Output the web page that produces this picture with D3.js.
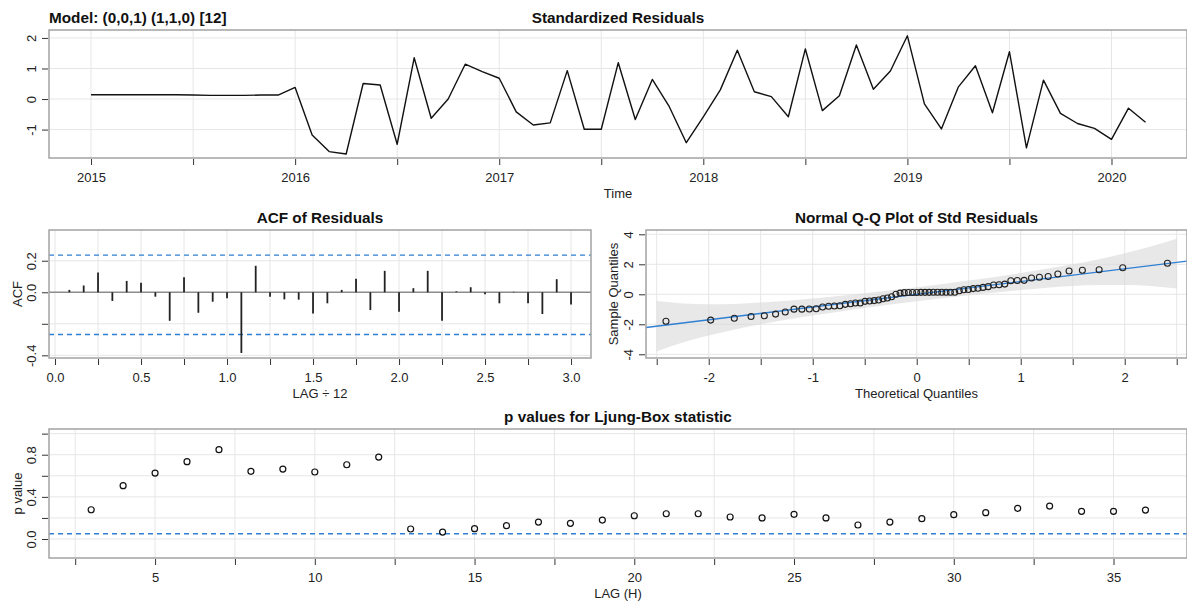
<!DOCTYPE html>
<html>
<head>
<meta charset="utf-8">
<script src="https://cdn.jsdelivr.net/npm/d3@7"></script>
<style>
body { margin: 0; background: #fff; }
svg { display: block; font-family: "Liberation Sans", Arial, sans-serif; }
.title { font-weight: bold; font-size: 15.3px; fill: #111; }
.axis text { font-size: 13px; fill: #222; font-family: "Liberation Sans", Arial, sans-serif; }
.axis line { stroke: #333; }
.lab { font-size: 13px; fill: #222; }
</style>
</head>
<body>
<div id="vis"></div>
<script>
// standardized residuals, monthly from Jan 2015
var startYear = 2015, freq = 12;
var resid = [
	0.14, 0.14, 0.14, 0.14, 0.14, 0.14, 0.13, 0.12, 0.12, 0.12, 0.13, 0.13,
	0.38, -1.18, -1.72, -1.8, 0.51, 0.46, -1.48, 1.35, -0.63, 0.0, 1.14, 0.9,
	0.68, -0.42, -0.85, -0.78, 0.93, -0.99, -0.99, 1.19, -0.67, 0.64, -0.25, -1.43,
	-0.58, 0.3, 1.6, 0.24, 0.08, -0.58, 1.64, -0.38, 0.11, 1.77, 0.32, 0.92,
	2.07, -0.16, -0.98, 0.4, 1.09, -0.45, 1.55, -1.6, 0.62, -0.47, -0.8, -0.96,
	-1.32, -0.3, -0.76
];

// ACF of residuals, lags 1..36 (in units of LAG / 12)
var acfVals = [
	0.015, 0.043, 0.125, -0.055, 0.072, 0.06, -0.028, -0.181, 0.096, -0.13, -0.06, -0.038,
	-0.385, 0.168, -0.028, -0.045, -0.047, -0.134, -0.07, 0.015, 0.085, -0.113, 0.136, -0.123,
	0.026, 0.136, -0.181, 0.006, 0.032, -0.013, -0.07, 0.003, -0.07, -0.138, 0.083, -0.077
];
var acfUpper = 0.236, acfLower = -0.268;

// Q-Q plot
var qqTheo = [
	-2.411, -1.981, -1.754, -1.593, -1.465, -1.357, -1.264, -1.180, -1.104, -1.033, -0.967,
	-0.905, -0.847, -0.792, -0.739, -0.687, -0.637, -0.589, -0.543, -0.497, -0.453, -0.409,
	-0.366, -0.324, -0.282, -0.241, -0.200, -0.160, -0.120, -0.080, -0.040, 0,
	0.040, 0.080, 0.120, 0.160, 0.200, 0.241, 0.282, 0.324, 0.366, 0.409, 0.453,
	0.497, 0.543, 0.589, 0.637, 0.687, 0.739, 0.792, 0.847, 0.905, 0.967, 1.033,
	1.104, 1.180, 1.264, 1.357, 1.465, 1.593, 1.754, 1.981, 2.411
];
var qqLineSlope = 0.85, qqLineIntercept = 0.0;
var bandZ  = [-2.5, -2.25, -2, -1.75, -1.5, -1, -0.5, 0, 0.5, 1, 1.5, 1.75, 2, 2.25, 2.5];
var bandLo = [-3.81, -3.21, -2.74, -2.34, -2.0, -1.42, -0.92, -0.47, -0.07, 0.28, 0.55, 0.62, 0.62, 0.55, 0.38];
var bandHi = [-0.45, -0.61, -0.66, -0.64, -0.55, -0.28, 0.07, 0.47, 0.92, 1.42, 2.0, 2.34, 2.74, 3.18, 3.7];

// Ljung-Box p values
var lbLags = d3.range(3, 37);
var lbP = [
	0.278, 0.506, 0.626, 0.734, 0.848, 0.642, 0.664, 0.636, 0.705, 0.778,
	0.095, 0.066, 0.098, 0.127, 0.161, 0.149, 0.18, 0.221, 0.24, 0.24,
	0.209, 0.2, 0.234, 0.2, 0.133, 0.161, 0.193, 0.231, 0.25, 0.291,
	0.313, 0.263, 0.263, 0.275
];
var lbAlpha = 0.05;

var width = 1187, height = 601;
var gridCol = '#e6e6e6', boxCol = '#a3a3a3', blue = '#2f7fd3';

var svg = d3.select('#vis')
	.append('svg')
	.attr('width', width)
	.attr('height', height);

// draws grid, box, axes and labels of one panel
function panel(p) {
	var x = p.x, y = p.y;
	var x0 = x.range()[0], x1 = x.range()[1], y0 = y.range()[0], y1 = y.range()[1];
	var g = svg.append('g');

	g.selectAll('.vg').data(p.xGrid).enter().append('line')
		.attr('x1', function(d) { return x(d); }).attr('x2', function(d) { return x(d); })
		.attr('y1', y1).attr('y2', y0)
		.attr('stroke', gridCol).attr('stroke-width', 1);
	g.selectAll('.hg').data(p.yGrid).enter().append('line')
		.attr('y1', function(d) { return y(d); }).attr('y2', function(d) { return y(d); })
		.attr('x1', x0).attr('x2', x1)
		.attr('stroke', gridCol).attr('stroke-width', 1);

	var content = svg.append('g');

	svg.append('rect')
		.attr('x', x0).attr('y', y1)
		.attr('width', x1 - x0).attr('height', y0 - y1)
		.attr('fill', 'none')
		.attr('stroke', boxCol)
		.attr('stroke-width', 1.5);

	var xa = svg.append('g')
		.attr('class', 'axis')
		.attr('transform', 'translate(0,' + (y0 + 1) + ')')
		.call(d3.axisBottom(x).tickValues(p.xTicks).tickSize(6).tickSizeOuter(0).tickPadding(8)
			.tickFormat(function(d) { return p.xLabel(d); }));
	xa.select('.domain').remove();

	var ya = svg.append('g')
		.attr('class', 'axis')
		.attr('transform', 'translate(' + (x0 - 1) + ',0)')
		.call(d3.axisLeft(y).tickValues(p.yTicks).tickSize(6).tickSizeOuter(0)
			.tickFormat(function(d) { return p.yLabel(d); }));
	ya.select('.domain').remove();
	ya.selectAll('text')
		.attr('x', null).attr('dy', null)
		.attr('text-anchor', 'middle')
		.attr('transform', 'translate(-12.5,0) rotate(-90)');

	svg.append('text')
		.attr('class', 'title')
		.attr('x', (x0 + x1) / 2).attr('y', y1 - 7.5)
		.attr('text-anchor', 'middle')
		.text(p.title);

	svg.append('text')
		.attr('class', 'lab')
		.attr('x', (x0 + x1) / 2).attr('y', y0 + 39.5)
		.attr('text-anchor', 'middle')
		.text(p.xTitle);

	if (p.yTitle) {
		svg.append('text')
			.attr('class', 'lab')
			.attr('transform', 'translate(' + p.yTitleX + ',' + ((y0 + y1) / 2) + ') rotate(-90)')
			.attr('text-anchor', 'middle')
			.text(p.yTitle);
	}
	return content;
}

// ---- standardized residuals ----
var xT = d3.scaleLinear().domain([2014.794, 2020.37]).range([49, 1187]);
var yT = d3.scaleLinear().domain([-1.93, 2.26]).range([158, 30]);
var gT = panel({
	x: xT, y: yT,
	xGrid: d3.range(2015, 2020.01, 0.5), yGrid: [-1, 0, 1, 2],
	xTicks: d3.range(2015, 2020.01, 0.5), xLabel: function(d) { return d % 1 === 0 ? d : ''; },
	yTicks: [-1, 0, 1, 2], yLabel: function(d) { return d; },
	title: 'Standardized Residuals', xTitle: 'Time'
});
gT.append('path')
	.datum(resid)
	.attr('fill', 'none')
	.attr('stroke', '#111')
	.attr('stroke-width', 1.4)
	.attr('stroke-linejoin', 'round')
	.attr('d', d3.line()
		.x(function(d, i) { return xT(startYear + i / freq); })
		.y(function(d) { return yT(d); }));

svg.append('text')
	.attr('class', 'title')
	.attr('x', 49).attr('y', 22.5)
	.text('Model: (0,0,1) (1,1,0) [12]');

// ---- ACF ----
var xA = d3.scaleLinear().domain([-0.035, 3.116]).range([49, 591]);
var yA = d3.scaleLinear().domain([-0.417, 0.395]).range([358, 230]);
var gA = panel({
	x: xA, y: yA,
	xGrid: d3.range(0, 3.01, 0.25), yGrid: [-0.4, -0.2, 0.2],
	xTicks: d3.range(0, 3.01, 0.25), xLabel: function(d) { return (d * 2) % 1 === 0 ? d.toFixed(1) : ''; },
	yTicks: [-0.4, -0.2, 0, 0.2], yLabel: function(d) { return d === -0.2 ? '' : d.toFixed(1); },
	title: 'ACF of Residuals', xTitle: 'LAG \u00f7 12',
	yTitle: 'ACF', yTitleX: 22
});
gA.append('line')
	.attr('x1', 49).attr('x2', 591)
	.attr('y1', yA(0)).attr('y2', yA(0))
	.attr('stroke', '#8c8c8c').attr('stroke-width', 1.3);
[acfUpper, acfLower].forEach(function(b) {
	gA.append('line')
		.attr('x1', 49).attr('x2', 591)
		.attr('y1', yA(b)).attr('y2', yA(b))
		.attr('stroke', blue).attr('stroke-width', 1.3)
		.attr('stroke-dasharray', '5,4');
});
gA.selectAll('.bar').data(acfVals).enter().append('line')
	.attr('x1', function(d, i) { return xA((i + 1) / freq); })
	.attr('x2', function(d, i) { return xA((i + 1) / freq); })
	.attr('y1', yA(0))
	.attr('y2', function(d) { return yA(d); })
	.attr('stroke', '#222')
	.attr('stroke-width', 1.8);

// ---- Normal Q-Q ----
var xQ = d3.scaleLinear().domain([-2.603, 2.599]).range([646, 1187]);
var yQ = d3.scaleLinear().domain([-4.247, 4.287]).range([358, 230]);
var gQ = panel({
	x: xQ, y: yQ,
	xGrid: d3.range(-2.5, 2.51, 0.5), yGrid: [-4, -2, 0, 2, 4],
	xTicks: d3.range(-2.5, 2.51, 0.5), xLabel: function(d) { return d % 1 === 0 ? d : ''; },
	yTicks: [-4, -2, 0, 2, 4], yLabel: function(d) { return d; },
	title: 'Normal Q-Q Plot of Std Residuals', xTitle: 'Theoretical Quantiles',
	yTitle: 'Sample Quantiles', yTitleX: 618
});
var qqSample = resid.slice().sort(d3.ascending);
gQ.append('path')
	.datum(bandZ)
	.attr('fill', '#d9d9d9')
	.attr('fill-opacity', 0.6)
	.attr('d', d3.area()
		.curve(d3.curveMonotoneX)
		.x(function(d) { return xQ(d); })
		.y0(function(d, i) { return yQ(bandLo[i]); })
		.y1(function(d, i) { return yQ(bandHi[i]); }));
gQ.append('line')
	.attr('x1', 646).attr('x2', 1187)
	.attr('y1', yQ(qqLineIntercept + qqLineSlope * xQ.invert(646)))
	.attr('y2', yQ(qqLineIntercept + qqLineSlope * xQ.invert(1187)))
	.attr('stroke', blue).attr('stroke-width', 1.3);
gQ.selectAll('.pt').data(qqTheo).enter().append('circle')
	.attr('cx', function(d) { return xQ(d); })
	.attr('cy', function(d, i) { return yQ(qqSample[i]); })
	.attr('r', 3)
	.attr('fill', 'none')
	.attr('stroke', '#222')
	.attr('stroke-width', 1.1);

// ---- Ljung-Box ----
var xL = d3.scaleLinear().domain([1.68, 37.3]).range([49, 1187]);
var yL = d3.scaleLinear().domain([-0.18, 1.044]).range([558, 429]);
var gL = panel({
	x: xL, y: yL,
	xGrid: d3.range(2.5, 35.1, 2.5), yGrid: [0, 0.2, 0.4, 0.6, 0.8, 1.0],
	xTicks: d3.range(2.5, 35.1, 2.5), xLabel: function(d) { return d % 5 === 0 ? d : ''; },
	yTicks: [0, 0.2, 0.4, 0.6, 0.8, 1.0],
	yLabel: function(d) { return [0, 0.4, 0.8].indexOf(d) >= 0 ? d.toFixed(1) : ''; },
	title: 'p values for Ljung-Box statistic', xTitle: 'LAG (H)',
	yTitle: 'p value', yTitleX: 22
});
gL.append('line')
	.attr('x1', 49).attr('x2', 1187)
	.attr('y1', yL(lbAlpha)).attr('y2', yL(lbAlpha))
	.attr('stroke', blue).attr('stroke-width', 1.3)
	.attr('stroke-dasharray', '5,4');
gL.selectAll('.pt').data(lbP).enter().append('circle')
	.attr('cx', function(d, i) { return xL(lbLags[i]); })
	.attr('cy', function(d) { return yL(d); })
	.attr('r', 3)
	.attr('fill', 'none')
	.attr('stroke', '#111')
	.attr('stroke-width', 1.2);
</script>
</body>
</html>
